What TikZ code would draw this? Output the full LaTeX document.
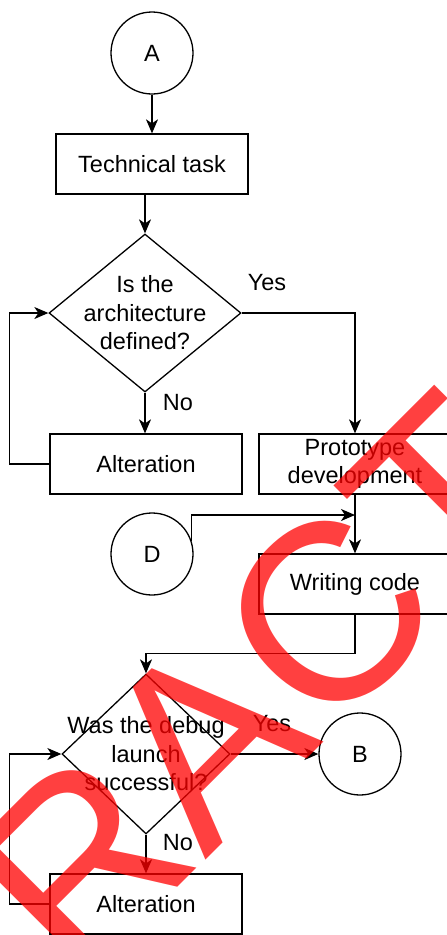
\documentclass[tikz,border=0pt]{standalone}
\usepackage{fontspec}
\setmainfont{Liberation Sans}
\usetikzlibrary{shapes.geometric,arrows.meta}

\tikzset{
  every node/.style={font=\fontsize{23.5}{28.5}\selectfont},
  term/.style={circle,draw,minimum size=82pt,inner sep=0pt},
  proc/.style={rectangle,draw,minimum width=192pt,minimum height=60pt,align=center},
  decision/.style={diamond,draw,inner sep=0pt},
}

\begin{document}
\begin{tikzpicture}[x=1pt,y=-1pt,line width=1.3pt,>={Stealth[length=14pt,width=12pt,inset=4pt]}]
    \useasboundingbox (0,0) rectangle (447,935);

    \node[term] (a) at (152,53) {A};
    \node[proc] (task) at (152,164) {Technical task};
    \node[decision,minimum width=192pt,minimum height=158pt,label={[align=center]center:Is the\\architecture\\defined?}] (arch) at (145,313) {};
    \node (yes1) at (267,283) {Yes};
    \node (no1) at (178,403) {No};
    \node[proc] (alt1) at (146,464) {Alteration};
    \node[proc] (proto) at (355,464) {Prototype\\development};
    \node[term] (d) at (152,554) {D};
    \coordinate (join) at (355,515);
    \node[proc] (code) at (355,584) {Writing code};
    \node[decision,minimum width=168pt,minimum height=160pt,label={[align=center]center:Was the debug\\launch\\successful?}] (debug) at (146,754) {};
    \node (yes2) at (272,724) {Yes};
    \node[term] (b) at (360,754) {B};
    \node (no2) at (178,843) {No};
    \node[proc] (alt2) at (146,904) {Alteration};

    \draw[->] (a) to (task); \draw[->] (task.south -| arch.north) to (arch.north);
    \draw[->] (arch.south) to (arch.south |- alt1.north); \draw[->] (arch.east) -| (proto.north);
    \draw[->] (alt1.west) -- ++(-40,0) |- (arch.west);
    \draw[->] (proto) to (code); \draw[->] (d.18) |- (join);
    \draw[->] (code.south) -- ++(0,39) -| (debug.north);
    \draw[->] (debug.east) to (b.west); \draw[->] (debug.south) to (debug.south |- alt2.north);
    \draw[->] (alt2.west) -- ++(-40,0) |- (debug.west);

    \node[rotate=45,text=red,opacity=0.75,inner sep=0pt,font=\fontsize{252}{252}\selectfont] (stamp) at (258,685) {RACT};
\end{tikzpicture}
\end{document}
